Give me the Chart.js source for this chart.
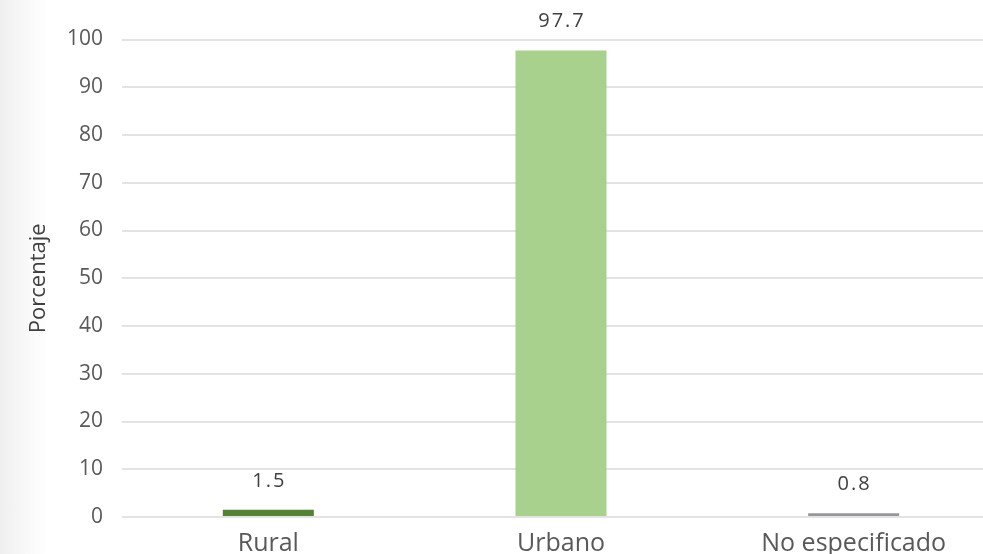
<!DOCTYPE html>
<html>
<head>
<meta charset="utf-8">
<script src="https://cdn.jsdelivr.net/npm/chart.js@4"></script>
<style>
  html, body { margin: 0; padding: 0; overflow: hidden; }
  body {
    width: 983px; height: 554px;
    background: linear-gradient(to right, #efefef 0px, #f8f8f8 25px, #ffffff 48px);
  }
  #wrap { width: 1000px; height: 554px; }
</style>
</head>
<body>
<div id="wrap"><canvas id="myChart" width="1000" height="554"></canvas></div>
<script>
// Chart data
const categories = ['Rural', 'Urbano', 'No especificado'];
const values = [1.5, 97.7, 0.8];
const barColors = ['#548235', '#a9d18e', '#96979a'];
const yTicks = [0, 10, 20, 30, 40, 50, 60, 70, 80, 90, 100];

const fontFamily = '"Open Sans", Lato, sans-serif';

// Draws the value above each bar
const valueLabels = {
    id: 'valueLabels',
    afterDatasetsDraw(chart) {
        const ctx = chart.ctx;
        const meta = chart.getDatasetMeta(0);
        ctx.save();
        ctx.fillStyle = '#404040';
        ctx.font = '20px ' + fontFamily;
        ctx.textAlign = 'center';
        ctx.textBaseline = 'middle';
        if ('letterSpacing' in ctx) ctx.letterSpacing = '2px';
        meta.data.forEach((bar, i) => {
            ctx.fillText(values[i].toFixed(1), bar.x + 1, bar.y - 29);
        });
        ctx.restore();
    }
};

new Chart(document.getElementById('myChart').getContext('2d'), {
    type: 'bar',
    data: {
        labels: categories,
        datasets: [{
            data: values,
            backgroundColor: barColors,
            borderWidth: 0,
            categoryPercentage: 1,
            barPercentage: 0.311
        }]
    },
    options: {
        responsive: false,
        animation: false,
        layout: { padding: { top: 39.5, left: 0, right: 0, bottom: 0 } },
        plugins: {
            legend: { display: false },
            tooltip: { enabled: false }
        },
        scales: {
            x: {
                grid: { display: false },
                border: { display: false },
                ticks: {
                    color: '#595959',
                    font: { family: fontFamily, size: 25 },
                    padding: 4
                },
                afterFit(scale) { scale.height = 37; }
            },
            y: {
                min: 0,
                max: 100,
                afterBuildTicks(scale) { scale.ticks = yTicks.map(v => ({ value: v })); },
                grid: { color: '#e3e3e3', lineWidth: 2, drawTicks: false },
                border: { display: false },
                ticks: {
                    color: '#595959',
                    font: { family: fontFamily, size: 21 },
                    padding: 19
                },
                title: {
                    display: true,
                    text: 'Porcentaje',
                    color: '#404040',
                    font: { family: fontFamily, size: 22 },
                    padding: { top: 26, bottom: 0 }
                },
                afterFit(scale) { scale.width = 122; }
            }
        }
    },
    plugins: [valueLabels]
});
</script>
</body>
</html>
